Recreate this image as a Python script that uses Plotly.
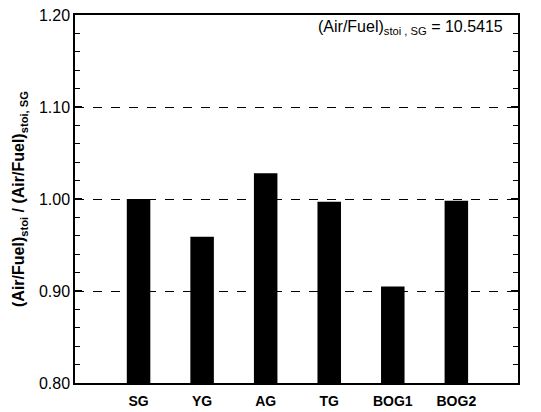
import plotly.graph_objects as go

categories = ["SG", "YG", "AG", "TG", "BOG1", "BOG2"]
values = [1.000, 0.959, 1.028, 0.997, 0.905, 0.998]
baseline = 0.8

positions = list(range(len(categories)))

fig = go.Figure()
fig.add_trace(go.Bar(
    x=positions, y=[v - baseline for v in values], base=baseline,
    width=0.37, marker=dict(color="black", line=dict(width=0)),
    hovertext=[f"{c}: {v:.3f}" for c, v in zip(categories, values)],
))

FONT = "Liberation Sans, Arial, sans-serif"

fig.update_layout(
    width=541, height=412,
    margin=dict(l=75, r=23, t=15, b=29),
    plot_bgcolor="white", paper_bgcolor="white",
    showlegend=False,
    font=dict(family=FONT, color="black"),
    xaxis=dict(
        range=[-1, 5.97],
        tickmode="array", tickvals=positions, ticktext=categories,
        ticks="", showgrid=False, zeroline=False,
        showline=True, linecolor="black", linewidth=1.5, mirror=True,
        tickfont=dict(size=14, family=FONT, weight="bold"),
        ticklabelstandoff=4,
        automargin=False,
    ),
    yaxis=dict(
        range=[0.8, 1.2],
        tickmode="linear", tick0=0.8, dtick=0.1, tickformat=".2f",
        ticks="inside", ticklen=7, tickwidth=1.5, tickcolor="black",
        minor=dict(dtick=0.02, tick0=0.8, ticks="inside", ticklen=5, tickwidth=1.2,
                   tickcolor="black", showgrid=False),
        showgrid=True, gridcolor="black", griddash="dash", gridwidth=1,
        zeroline=False,
        showline=True, linecolor="black", linewidth=1.5, mirror="allticks",
        tickfont=dict(size=16, family=FONT),
        automargin=False,
        title=dict(
            text="(Air/Fuel)<sub>stoi</sub> / (Air/Fuel)<sub>stoi, SG</sub>",
            font=dict(size=16, family=FONT, weight="bold"),
            standoff=10,
        ),
    ),
    annotations=[dict(
        text="(Air/Fuel)<sub>stoi , SG</sub> = 10.5415",
        xref="paper", yref="paper", x=0.97, y=0.966,
        xanchor="right", yanchor="middle", showarrow=False,
        font=dict(size=16, family=FONT),
    )],
)

fig.write_html("out.html")
